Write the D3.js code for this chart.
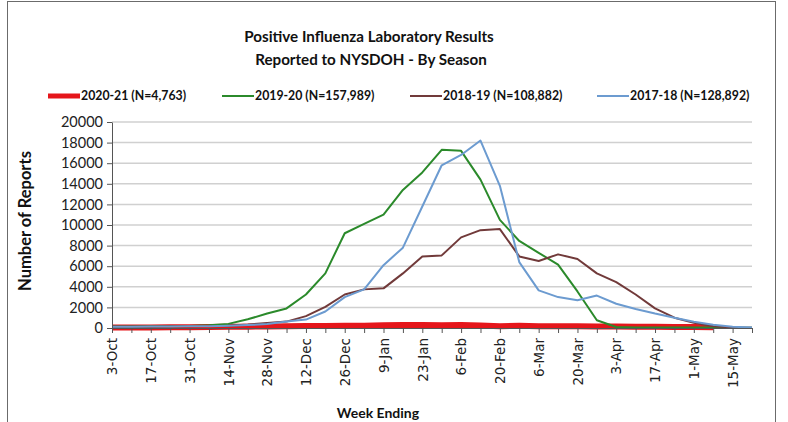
<!DOCTYPE html>
<html lang="en">
<head>
    <meta charset="UTF-8" />
    <title>Positive Influenza Laboratory Results</title>
    <script src="https://d3js.org/d3.v7.min.js"></script>
    <style>
        body { margin: 0; background: #fff; }
    </style>
</head>
<body>
    <div id="chart"></div>
    <script>
        // week ending dates (one point per week)
        const weeks = ["3-Oct", "10-Oct", "17-Oct", "24-Oct", "31-Oct", "7-Nov", "14-Nov", "21-Nov", "28-Nov",
            "5-Dec", "12-Dec", "19-Dec", "26-Dec", "2-Jan", "9-Jan", "16-Jan", "23-Jan", "30-Jan", "6-Feb",
            "13-Feb", "20-Feb", "27-Feb", "6-Mar", "13-Mar", "20-Mar", "27-Mar", "3-Apr", "10-Apr", "17-Apr",
            "24-Apr", "1-May", "8-May", "15-May", "22-May"]

        const season2020 = [50, 55, 60, 70, 80, 90, 110, 130, 150, 170, 190, 200, 210, 230, 260, 300, 280,
            260, 280, 240, 180, 210, 180, 170, 160, 150, 140, 130, 120, 100, 90, 80]
        const season2019 = [150, 150, 160, 170, 190, 260, 400, 850, 1400, 1900, 3250, 5300, 9200, 10100, 11000,
            13400, 15100, 17300, 17200, 14400, 10500, 8450, 7300, 6150, 3550, 750, 100, 60, 50, 50, 40, 40, 30, 20]
        const season2018 = [150, 150, 150, 160, 170, 190, 230, 330, 480, 620, 1150, 2050, 3250, 3750, 3850,
            5300, 6950, 7050, 8800, 9500, 9600, 6950, 6500, 7150, 6700, 5300, 4450, 3250, 1900, 1000, 500, 170, 60, 30]
        const season2017 = [120, 130, 140, 150, 160, 180, 220, 280, 380, 620, 820, 1600, 3000, 3750, 6100,
            7800, 11800, 15800, 16800, 18200, 13800, 6400, 3650, 3000, 2700, 3150, 2350, 1850, 1400, 1000, 600, 320, 120, 50]

        const seasonNames = ["2020-21 (N=4,763)", "2019-20 (N=157,989)", "2018-19 (N=108,882)", "2017-18 (N=128,892)"]
        const yTicks = [0, 2000, 4000, 6000, 8000, 10000, 12000, 14000, 16000, 18000, 20000]

        const series = [
            { name: seasonNames[0], values: season2020, color: "#e5161b", width: 6 },
            { name: seasonNames[1], values: season2019, color: "#2b8a2b", width: 2 },
            { name: seasonNames[2], values: season2018, color: "#713a3a", width: 2 },
            { name: seasonNames[3], values: season2017, color: "#6c9bd0", width: 2 }
        ]

        const width = 788
        const height = 422
        const margin = ({ top: 122, right: 36, bottom: 94, left: 112 })
        const font = "Lato, 'Open Sans', sans-serif"

        const x = d3.scalePoint()
            .domain(weeks)
            .range([margin.left, width - margin.right])

        const y = d3.scaleLinear()
            .domain([0, 20000])
            .range([height - margin.bottom, margin.top])

        const svg = d3.select("#chart").append("svg")
            .attr("width", width)
            .attr("height", height)
            .attr("viewBox", [0, 0, width, height])

        // outer frame
        svg.append("rect")
            .attr("x", 7.5)
            .attr("y", 1.5)
            .attr("width", 768)
            .attr("height", 430)
            .attr("fill", "none")
            .attr("stroke", "#6b6b6b")

        // title
        svg.append("text")
            .attr("x", 369)
            .attr("y", 42)
            .attr("text-anchor", "middle")
            .attr("font-family", font)
            .attr("font-weight", "bold")
            .attr("font-size", 15.2)
            .attr("fill", "#111")
            .text("Positive Influenza Laboratory Results")
        svg.append("text")
            .attr("x", 371)
            .attr("y", 65)
            .attr("text-anchor", "middle")
            .attr("font-family", font)
            .attr("font-weight", "bold")
            .attr("font-size", 15.2)
            .attr("fill", "#111")
            .text("Reported to NYSDOH - By Season")

        // gridlines
        svg.append("g")
            .selectAll("line")
            .data(yTicks.filter(d => d > 0))
            .join("line")
            .attr("x1", margin.left)
            .attr("x2", width - margin.right)
            .attr("y1", d => y(d))
            .attr("y2", d => y(d))
            .attr("stroke", "#d0d0d0")
            .attr("stroke-width", 1.5)

        // lines
        const line = d3.line()
            .x((d, i) => x(weeks[i]))
            .y(d => y(d))

        svg.append("g")
            .attr("fill", "none")
            .attr("stroke-linejoin", "round")
            .selectAll("path")
            .data(series)
            .join("path")
            .attr("stroke", d => d.color)
            .attr("stroke-width", d => d.width)
            .attr("d", d => line(d.values))

        const xAxis = g => g
            .attr("transform", `translate(0,${height - margin.bottom})`)
            .call(d3.axisBottom(x).tickSize(5).tickSizeOuter(0).tickFormat((d, i) => i % 2 ? "" : d))
            .call(g => g.select(".domain").attr("stroke", "#555"))
            .call(g => g.selectAll(".tick line").attr("stroke", "#555"))
            .call(g => g.selectAll(".tick text")
                .attr("font-family", "'DejaVu Sans', sans-serif")
                .attr("font-size", 13.5)
                .attr("fill", "#222")
                .attr("text-anchor", "end")
                .attr("transform", "rotate(-90)")
                .attr("x", -10)
                .attr("y", 0)
                .attr("dy", "0.35em"))

        const yAxis = g => g
            .attr("transform", `translate(${margin.left},0)`)
            .call(d3.axisLeft(y).tickValues(yTicks).tickFormat(d3.format("d")).tickSize(5).tickSizeOuter(0))
            .call(g => g.select(".domain").attr("stroke", "#555"))
            .call(g => g.selectAll(".tick line").attr("stroke", "#555"))
            .call(g => g.selectAll(".tick text")
                .attr("font-family", font)
                .attr("font-size", 14.5)
                .attr("fill", "#222")
                .attr("x", -9))

        svg.append("g").call(xAxis)
        svg.append("g").call(yAxis)

        // axis titles
        svg.append("text")
            .attr("transform", "translate(31,221) rotate(-90)")
            .attr("text-anchor", "middle")
            .attr("font-family", font)
            .attr("font-weight", "bold")
            .attr("font-size", 16.5)
            .attr("fill", "#111")
            .text("Number of Reports")

        svg.append("text")
            .attr("x", 378)
            .attr("y", 418)
            .attr("text-anchor", "middle")
            .attr("font-family", font)
            .attr("font-weight", "bold")
            .attr("font-size", 14)
            .attr("fill", "#111")
            .text("Week Ending")

        // legend
        const legendX = [48, 222, 410, 597]
        const legend = svg.append("g")
            .selectAll("g")
            .data(series)
            .join("g")
            .attr("transform", (d, i) => `translate(${legendX[i]},96)`)

        legend.append("line")
            .attr("x1", 0)
            .attr("x2", 32)
            .attr("stroke", d => d.color)
            .attr("stroke-width", d => d.width === 6 ? 5 : 2)

        legend.append("text")
            .attr("x", 33)
            .attr("dy", "0.35em")
            .attr("font-family", font)
            .attr("font-weight", "bold")
            .attr("font-size", 12.3)
            .attr("fill", "#111")
            .text(d => d.name)
    </script>
</body>
</html>
